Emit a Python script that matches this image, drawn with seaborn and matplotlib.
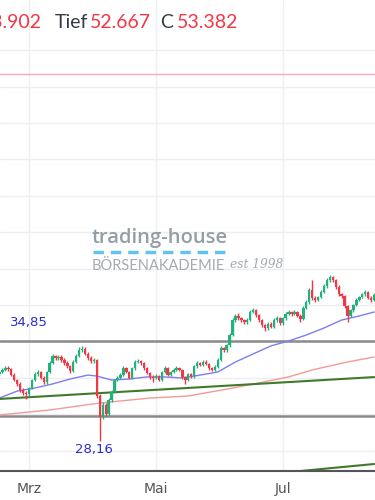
import numpy as np
import pandas as pd
import matplotlib
matplotlib.use("Agg")
import matplotlib.pyplot as plt
import seaborn as sns
from matplotlib.lines import Line2D

# daily candles, mid Feb to mid Aug (trading days)
opens = [32.75, 32.90, 33.04, 33.17, 33.11, 32.69, 32.35, 32.08, 31.66, 31.46,
         31.39, 31.80, 32.35, 32.76, 32.90, 32.49, 32.21, 32.90, 33.52, 34.00,
         33.86, 33.93, 33.72, 33.52, 33.31, 32.97, 33.59, 34.00, 34.41, 34.48,
         34.14, 33.86, 33.65, 33.72, 31.25, 29.81, 30.63, 30.01, 30.98, 31.53,
         32.35, 32.49, 32.69, 33.17, 32.90, 32.49, 33.17, 33.59, 33.65, 33.52,
         33.17, 32.83, 32.56, 32.49, 32.62, 32.35, 32.90, 33.17, 32.69, 32.90,
         33.04, 33.17, 33.04, 32.56, 32.35, 32.76, 32.62, 33.31, 33.52, 33.38,
         33.59, 33.45, 33.17, 33.04, 33.24, 33.72, 34.55, 34.41, 34.75, 35.44,
         36.47, 36.75, 36.61, 36.47, 36.33, 36.47, 37.02, 37.16, 36.81, 36.47,
         36.13, 35.92, 36.20, 35.99, 36.47, 36.61, 36.26, 36.61, 36.88, 37.02,
         36.88, 37.02, 36.75, 36.54, 37.30, 37.71, 38.53, 37.98, 37.84, 38.05,
         38.39, 38.81, 39.22, 39.42, 39.22, 38.74, 38.26, 38.12, 37.43, 36.75,
         37.16, 37.50, 37.84, 38.05, 38.26, 38.39, 37.98, 37.84]
highs = [33.05, 33.20, 33.30, 33.28, 33.20, 32.80, 32.45, 32.20, 31.80, 31.60,
         31.90, 32.45, 32.90, 33.05, 33.00, 32.60, 33.00, 33.65, 34.15, 34.10,
         34.05, 34.05, 33.85, 33.65, 33.40, 33.70, 34.15, 34.60, 34.70, 34.60,
         34.25, 34.00, 33.85, 33.80, 31.40, 30.85, 30.75, 31.10, 31.65, 32.45,
         32.60, 32.80, 33.30, 33.25, 33.00, 33.25, 33.70, 33.80, 33.75, 33.60,
         33.25, 32.90, 32.70, 32.75, 32.70, 33.00, 33.30, 33.25, 33.00, 33.15,
         33.30, 33.25, 33.10, 32.65, 32.85, 32.85, 33.40, 33.65, 33.60, 33.70,
         33.70, 33.55, 33.25, 33.35, 33.85, 34.70, 34.65, 34.85, 35.55, 36.60,
         36.90, 36.95, 36.70, 36.55, 36.60, 37.15, 37.30, 37.25, 36.90, 36.55,
         36.20, 36.30, 36.30, 36.60, 36.75, 36.70, 36.70, 37.00, 37.15, 37.10,
         37.15, 37.10, 36.85, 37.40, 37.85, 38.65, 39.25, 38.10, 38.15, 38.50,
         38.95, 39.35, 39.55, 39.50, 39.30, 38.85, 38.35, 38.20, 37.50, 37.25,
         37.60, 37.95, 38.15, 38.35, 38.55, 38.45, 38.10, 38.30]
lows = [32.60, 32.80, 32.95, 33.00, 32.60, 32.25, 31.95, 31.55, 31.35, 31.05,
        31.25, 31.70, 32.25, 32.65, 32.40, 32.10, 32.10, 32.80, 33.45, 33.75,
        33.75, 33.60, 33.40, 33.20, 32.85, 32.90, 33.50, 33.90, 34.30, 34.05,
        33.75, 33.55, 33.55, 31.10, 28.16, 29.70, 29.85, 29.90, 30.85, 31.45,
        32.25, 32.40, 32.60, 32.80, 32.40, 32.40, 33.05, 33.50, 33.40, 33.05,
        32.75, 32.40, 32.20, 32.40, 32.25, 32.25, 32.80, 32.60, 32.60, 32.80,
        32.95, 32.95, 32.45, 32.10, 32.25, 32.50, 32.50, 33.20, 33.30, 33.30,
        33.35, 33.05, 32.95, 32.95, 33.15, 33.65, 34.30, 34.30, 34.65, 35.35,
        36.35, 36.50, 36.35, 36.20, 36.20, 36.40, 36.95, 36.70, 36.35, 36.00,
        35.70, 35.80, 35.90, 35.90, 36.35, 36.15, 36.15, 36.50, 36.80, 36.75,
        36.80, 36.65, 36.30, 36.45, 37.20, 37.60, 37.85, 37.70, 37.75, 37.95,
        38.30, 38.70, 39.10, 39.10, 38.60, 38.15, 38.00, 37.30, 36.35, 36.65,
        37.05, 37.40, 37.75, 37.95, 38.15, 37.90, 37.70, 37.75]
closes = [32.90, 33.04, 33.17, 33.11, 32.69, 32.35, 32.08, 31.66, 31.46, 31.39,
          31.80, 32.35, 32.76, 32.90, 32.49, 32.21, 32.90, 33.52, 34.00, 33.86,
          33.93, 33.72, 33.52, 33.31, 32.97, 33.59, 34.00, 34.41, 34.48, 34.14,
          33.86, 33.65, 33.72, 31.25, 29.81, 30.63, 30.01, 30.98, 31.53, 32.35,
          32.49, 32.69, 33.17, 32.90, 32.49, 33.17, 33.59, 33.65, 33.52, 33.17,
          32.83, 32.56, 32.49, 32.62, 32.35, 32.90, 33.17, 32.69, 32.90, 33.04,
          33.17, 33.04, 32.56, 32.35, 32.76, 32.62, 33.31, 33.52, 33.38, 33.59,
          33.45, 33.17, 33.04, 33.24, 33.72, 34.55, 34.41, 34.75, 35.44, 36.47,
          36.75, 36.61, 36.47, 36.33, 36.47, 37.02, 37.16, 36.81, 36.47, 36.13,
          35.92, 36.20, 35.99, 36.47, 36.61, 36.26, 36.61, 36.88, 37.02, 36.88,
          37.02, 36.75, 36.54, 37.30, 37.71, 38.53, 37.98, 37.84, 38.05, 38.39,
          38.81, 39.22, 39.42, 39.22, 38.74, 38.26, 38.12, 37.43, 36.75, 37.16,
          37.50, 37.84, 38.05, 38.26, 38.39, 37.98, 37.84, 38.19]

# moving averages read at sample days
ma_fast_day = [0, 6, 12, 18, 24, 30, 33, 38, 44, 50, 56, 62, 68, 74, 80, 86, 92, 98, 104, 110, 116, 122, 127]
ma_fast = [31.11, 31.59, 31.80, 32.08, 32.42, 32.69, 32.62, 32.35, 32.42, 32.56, 32.56, 32.49,
           32.69, 32.90, 33.59, 34.14, 34.69, 35.03, 35.44, 35.92, 36.47, 36.75, 37.02]
ma_slow_day = [0, 17, 34, 51, 64, 81, 98, 106, 118, 127]
ma_slow = [29.95, 30.29, 30.77, 31.11, 31.25, 31.87, 32.56, 33.04, 33.59, 33.93]

trend_day = [0, 127]
trend_val = [31.05, 32.55]
trend2_day = [85, 127]
trend2_val = [25.77, 26.58]

level_hi = 35.0
level_lo = 29.9
last_price = 53.382
label_hi = "34,85"
label_lo = "28,16"
month_names = ["Mrz", "Mai", "Jul"]

up_col = "#22b07d"
dn_col = "#f23645"

sns.set_style("white")
plt.rcParams["font.family"] = ["DejaVu Sans"]

dates = pd.bdate_range("2025-02-17", periods=len(closes))
df = pd.DataFrame({"date": dates, "open": opens, "high": highs, "low": lows, "close": closes})
df["day"] = np.arange(len(df))

fig = plt.figure(figsize=(3.75, 5), dpi=100)
ax = fig.add_axes([0, 29 / 500, 1, 471 / 500])

# grid
ax.set_yticks(np.arange(27.5, 56, 2.5))
first_days = [df.loc[df["date"].dt.month == m, "day"].iloc[0] for m in (3, 5, 7)]
ax.set_xticks(first_days)
ax.set_xticklabels(month_names)
ax.grid(True, color="#ededf2", lw=1, zorder=0)

# level lines and last price line
ax.axhline(level_hi, color="#8a8a8a", lw=1.8, zorder=1)
ax.axhline(level_lo, color="#8a8a8a", lw=1.8, zorder=1)
ax.axhline(last_price, color="#f4a9bb", lw=1, zorder=1)

# moving averages and trend lines
sns.lineplot(x=ma_slow_day, y=ma_slow, ax=ax, color="#f29a9a", lw=1, zorder=2)
sns.lineplot(x=ma_fast_day, y=ma_fast, ax=ax, color="#7d7df2", lw=1, zorder=2)
sns.lineplot(x=trend_day, y=trend_val, ax=ax, color="#3f7a2c", lw=1.5, zorder=2)
sns.lineplot(x=trend2_day, y=trend2_val, ax=ax, color="#3f7a2c", lw=1.5, zorder=2)

# candles
up = df["close"] >= df["open"]
cols = np.where(up, up_col, dn_col)
body_lo = np.minimum(df["open"], df["close"])
body_h = np.maximum(np.abs(df["close"] - df["open"]), 0.06)
ax.vlines(df["day"], df["low"], df["high"], colors=cols, lw=1, zorder=3)
ax.bar(df["day"], body_h, bottom=body_lo, width=0.8, color=cols, lw=0, zorder=4)

ax.text(3.4, 36.3, label_hi, color="#2a2ad2", fontsize=9.5, ha="left", va="center")
ax.text(32, 27.55, label_lo, color="#2a2ad2", fontsize=9.5, ha="center", va="center")

ax.set_xlim(0.17, 127.3)
ax.set_ylim(26.1, 58.45)
for s in ["left", "right", "top"]:
    ax.spines[s].set_visible(False)
ax.spines["bottom"].set_color("#555555")
ax.spines["bottom"].set_linewidth(1.5)
ax.tick_params(axis="y", left=False, labelleft=False)
ax.tick_params(axis="x", length=4, width=1, color="#555555", labelcolor="#555555",
               labelsize=10, pad=4)

# header (the left value is cut at the edge, as in the original)
def px(x, y):
    return x / 375, 1 - y / 500

fig.text(*px(41, 22), "H 53.902", color=dn_col, fontsize=14, ha="right", va="center", family="Lato")
fig.text(*px(55, 22), "Tief", color="#333a44", fontsize=14, ha="left", va="center", family="Lato")
fig.text(*px(90, 22), "52.667", color=dn_col, fontsize=14, ha="left", va="center", family="Lato")
fig.text(*px(160, 22), "C", color="#333a44", fontsize=14, ha="left", va="center", family="Lato")
fig.text(*px(177, 22), "53.382", color=dn_col, fontsize=14, ha="left", va="center", family="Lato")

# watermark
fig.text(*px(92, 238), "trading-house", color="#939ea6", fontsize=14.5, ha="left", va="center",
         family="Open Sans", weight="semibold")
fig.add_artist(Line2D([93 / 375, 225 / 375], [1 - 252 / 500] * 2, transform=fig.transFigure,
                      color="#62c3ee", lw=2.5, dashes=(3, 2)))
fig.text(*px(92, 266), "BÖRSENAKADEMIE", color="#a2abb1", fontsize=10.5, ha="left", va="center",
         family="Lato")
fig.text(*px(230, 265), "est 1998", color="#a2abb1", fontsize=8.8, ha="left", va="center",
         family="DejaVu Serif", style="italic")

fig.savefig("out.png", dpi=100)
